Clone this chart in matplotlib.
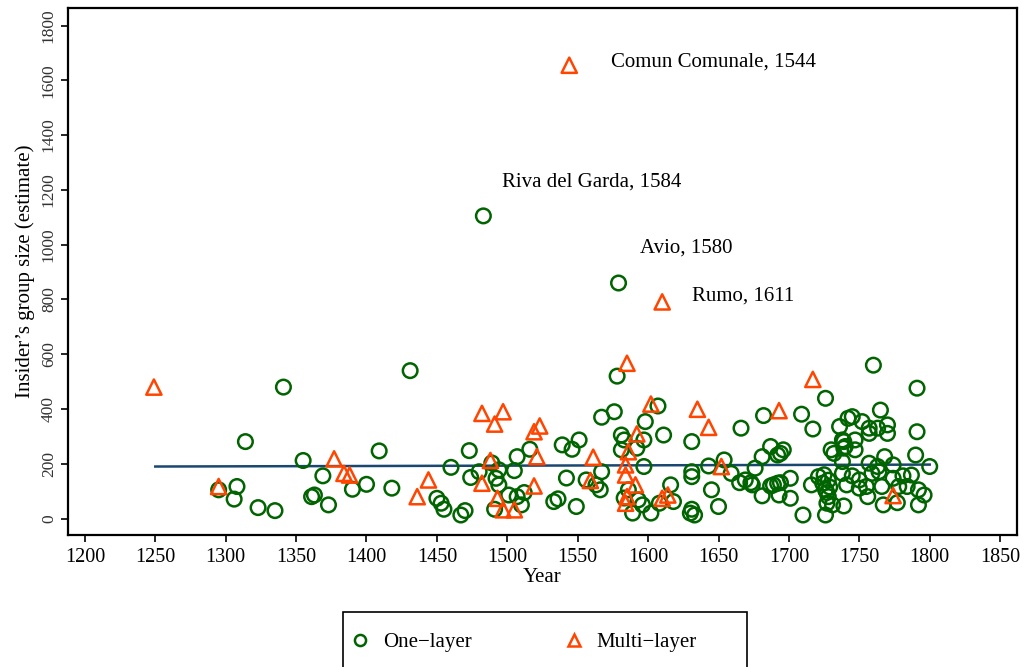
import matplotlib
matplotlib.use("Agg")
import matplotlib.pyplot as plt
from matplotlib.lines import Line2D
from matplotlib.patches import Rectangle

plt.rcParams['font.family'] = ['Liberation Serif', 'DejaVu Serif']

# one-layer communities: year, insider group size
one_year = [1295, 1306, 1308, 1314, 1323, 1335, 1341, 1355, 1361, 1363, 1369, 1373,
            1390, 1400, 1409, 1418, 1431, 1450, 1453, 1455, 1460, 1467, 1470, 1473,
            1474, 1480, 1483, 1489, 1491, 1492, 1494, 1494, 1501, 1505, 1507, 1507,
            1510, 1512, 1516, 1533, 1536, 1539, 1542, 1546, 1549, 1551, 1556, 1563,
            1566, 1567, 1567, 1576, 1578, 1579, 1581, 1581, 1583, 1583, 1586, 1589,
            1592, 1593, 1596, 1597, 1597, 1598, 1602, 1607, 1608, 1611, 1616, 1618,
            1630, 1631, 1631, 1631, 1631, 1633, 1643, 1645, 1650, 1654, 1659, 1665,
            1666, 1669, 1673, 1674, 1676, 1681, 1681, 1682, 1687, 1687, 1689, 1692,
            1692, 1693, 1694, 1694, 1696, 1701, 1701, 1709, 1710, 1716, 1717, 1721,
            1724, 1725, 1726, 1726, 1726, 1727, 1727, 1728, 1728, 1729, 1730, 1731,
            1732, 1736, 1738, 1738, 1738, 1739, 1739, 1739, 1740, 1741, 1742, 1745,
            1745, 1747, 1747, 1750, 1750, 1752, 1755, 1756, 1757, 1757, 1757, 1759,
            1760, 1763, 1763, 1764, 1765, 1766, 1767, 1768, 1770, 1770, 1774, 1774,
            1777, 1778, 1781, 1784, 1787, 1790, 1791, 1791, 1792, 1792, 1796, 1800]
one_size = [105, 71, 117, 281, 40, 29, 480, 212, 80, 86, 156, 50,
            107, 125, 247, 111, 540, 74, 56, 34, 187, 13, 29, 248,
            150, 171, 1105, 203, 34, 147, 178, 123, 86, 175, 226, 80,
            50, 95, 253, 62, 72, 269, 148, 253, 44, 287, 141, 123,
            105, 171, 370, 390, 520, 860, 305, 251, 287, 75, 105, 20,
            257, 68, 50, 287, 190, 354, 20, 411, 56, 305, 123, 62,
            20, 281, 171, 153, 34, 13, 192, 105, 44, 214, 165, 131,
            330, 141, 131, 123, 184, 226, 83, 376, 263, 119, 123, 232,
            129, 86, 238, 131, 251, 147, 74, 381, 13, 123, 327, 153,
            129, 160, 439, 105, 13, 56, 95, 80, 140, 115, 251, 50,
            238, 336, 287, 208, 165, 281, 257, 46, 263, 123, 366, 372,
            156, 287, 251, 141, 111, 354, 117, 80, 330, 311, 202, 165,
            560, 330, 190, 171, 396, 117, 50, 226, 342, 311, 196, 147,
            58, 117, 156, 117, 159, 232, 476, 317, 105, 50, 86, 190]

# multi-layer communities
multi_year = [1249, 1295, 1377, 1384, 1388, 1436, 1444, 1482, 1482, 1488, 1491, 1493,
              1497, 1497, 1505, 1519, 1519, 1521, 1523, 1544, 1559, 1561, 1584, 1584,
              1584, 1585, 1585, 1586, 1591, 1592, 1602, 1610, 1610, 1614, 1635, 1643,
              1652, 1693, 1717, 1774]
multi_size = [480, 117, 218, 165, 159, 80, 141, 384, 129, 212, 345, 74,
              390, 32, 32, 119, 317, 226, 338, 1655, 139, 224, 196, 159,
              56, 567, 80, 244, 123, 309, 418, 791, 74, 86, 399, 333,
              190, 394, 508, 84]

# fitted trend line
fit_year = [1250, 1800]
fit_size = [190, 197]

# labelled outliers: text, x, y
labels = ["Comun Comunale, 1544", "Riva del Garda, 1584", "Avio, 1580", "Rumo, 1611"]
label_x = [1574, 1496, 1594, 1631]
label_y = [1665, 1228, 987, 812]

green = "#006400"
orange = "#FF4500"
navy = "#1a476f"

fig = plt.figure(figsize=(10.25, 6.67), dpi=100)
ax = fig.add_axes([68 / 1025, 1 - 535 / 667, (1017 - 68) / 1025, (535 - 8) / 667])

ax.scatter(one_year, one_size, s=110, marker="o", facecolors="none",
           edgecolors=green, linewidths=1.8, zorder=3)
ax.scatter(multi_year, multi_size, s=120, marker="^", facecolors="none",
           edgecolors=orange, linewidths=1.8, zorder=4)
ax.plot(fit_year, fit_size, color=navy, lw=1.8, zorder=2)

for t, x, y in zip(labels, label_x, label_y):
    ax.text(x, y, t, fontsize=15, va="center", ha="left")

ax.set_xlim(1188, 1862)
ax.set_ylim(-60, 1864)
ax.set_xticks(range(1200, 1851, 50))
ax.set_yticks(range(0, 1801, 200))
ax.tick_params(axis="x", labelsize=14.5, length=5, width=1.2, pad=4)
ax.tick_params(axis="y", labelsize=12.5, length=5, width=1.2, pad=3,
               labelrotation=90, labelcolor="#333333")
for lab in ax.get_yticklabels():
    lab.set_va("center")
for sp in ax.spines.values():
    sp.set_linewidth(1.6)

ax.set_xlabel("Year", fontsize=15, labelpad=1)
ax.set_ylabel("Insider\u2019s group size (estimate)", fontsize=15, labelpad=4)

# legend box below the plot, running off the bottom edge
fig.patches.append(Rectangle((343 / 1025, -0.05), (747 - 343) / 1025, 0.05 + (667 - 612) / 667,
                             transform=fig.transFigure, fill=False, ec="black", lw=1.2))
handles = [
    Line2D([], [], ls="none", marker="o", ms=8, mfc="none", mec=green, mew=1.8),
    Line2D([], [], ls="none", marker="^", ms=9, mfc="none", mec=orange, mew=1.8),
]
fig.legend(handles, ["One\u2212layer", "Multi\u2212layer"], ncol=2, frameon=False,
           fontsize=15, loc="center left", bbox_to_anchor=(331 / 1025, 1 - 642 / 667),
           handletextpad=0.6, columnspacing=4.4, handlelength=1.0)

fig.savefig("out.png", dpi=100)
